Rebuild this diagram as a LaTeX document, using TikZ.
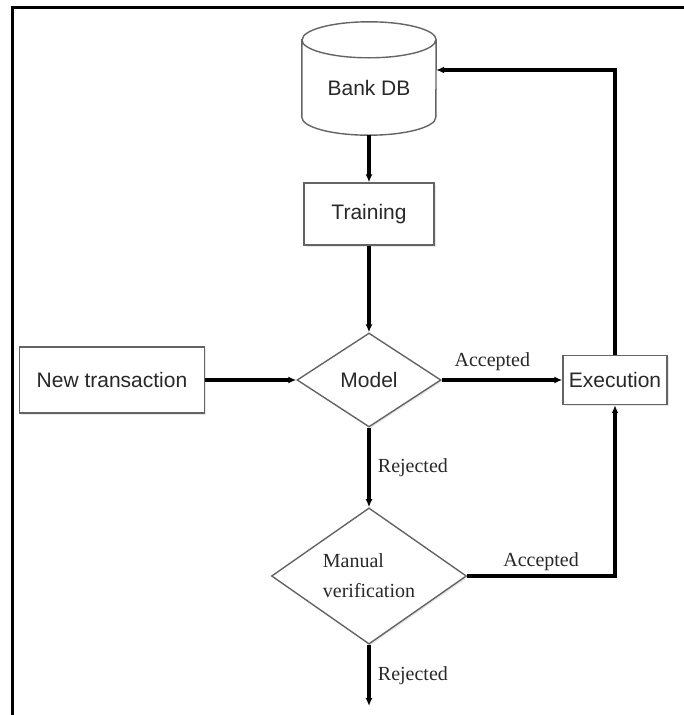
\documentclass[tikz,border=0pt]{standalone}
\usepackage{fontspec}
\setmainfont{Liberation Serif}
\setsansfont{Liberation Sans}
\usetikzlibrary{arrows.meta,positioning,calc,shapes.geometric,shadows}
\definecolor{ink}{RGB}{40,40,40}
\definecolor{rim}{RGB}{100,100,100}

\begin{document}
\begin{tikzpicture}[x=1pt,y=-1pt,>={Latex[length=8pt,width=7pt]},
  box/.style={draw=rim,line width=1.4pt,fill=white,text=ink,
    font=\sffamily\fontsize{21}{24}\selectfont,
    drop shadow={opacity=0.18,shadow xshift=1.5pt,shadow yshift=-1.5pt}},
  decide/.style={box,diamond,inner sep=0pt},
  flow/.style={->,line width=3.2pt},
  lab/.style={text=ink,font=\fontsize{20}{22}\selectfont}]
 \useasboundingbox (0,0) rectangle (684,715);
 % open frame (left and top only)
 \draw[line width=3pt] (12,715) -- (12,7) -- (684,7);
 % database drum: node is the body, caps drawn round it
 \node[text=ink,font=\sffamily\fontsize{21}{24}\selectfont,
   minimum width=134pt,minimum height=95pt] (db) at (369,87.5) {Bank DB};
 \draw[rim,line width=1.4pt]
   (db.north west) -- ($(db.south west)+(0,-18)$)
   arc[start angle=180,end angle=360,x radius=67pt,y radius=18pt]
   -- (db.north east)
   arc[start angle=0,end angle=180,x radius=67pt,y radius=18pt] -- cycle
   (db.north west)
   arc[start angle=180,end angle=360,x radius=67pt,y radius=18pt];
 % other nodes
 \node[box,minimum width=130pt,minimum height=62pt] (train) at (369,214) {Training};
 \node[decide,minimum width=144pt,minimum height=94pt] (model) at (369,380) {Model};
 \node[box,minimum width=185pt,minimum height=66pt] (newtx) at (112,380) {New transaction};
 \node[box,minimum width=104pt,minimum height=49pt] (exec) at (615,380) {Execution};
 \node[decide,minimum width=195pt,minimum height=128pt,align=left,
   font=\fontsize{20}{30}\selectfont] (manual) at (369,576) {Manual\\verification};
 \coordinate (ret) at (615,70);
 \coordinate (out) at (369,706);
 % connectors
 \draw[flow] (db) -- (train);
 \draw[flow] (train) -- (model);
 \draw[flow] (newtx) -- (model);
 \draw[flow] (model) -- node[lab,above=4pt,pos=0.42]{Accepted} (exec);
 \draw[flow] (exec.north) -- (ret) -- (ret -| db.east);
 \draw[flow] (model) -- node[lab,right=4pt]{Rejected} (manual);
 \draw[flow] (manual.east) -| node[lab,above=0pt,pos=0.25]{Accepted} (exec.south);
 \draw[flow] (manual) -- node[lab,right=4pt]{Rejected} (out);
\end{tikzpicture}
\end{document}
